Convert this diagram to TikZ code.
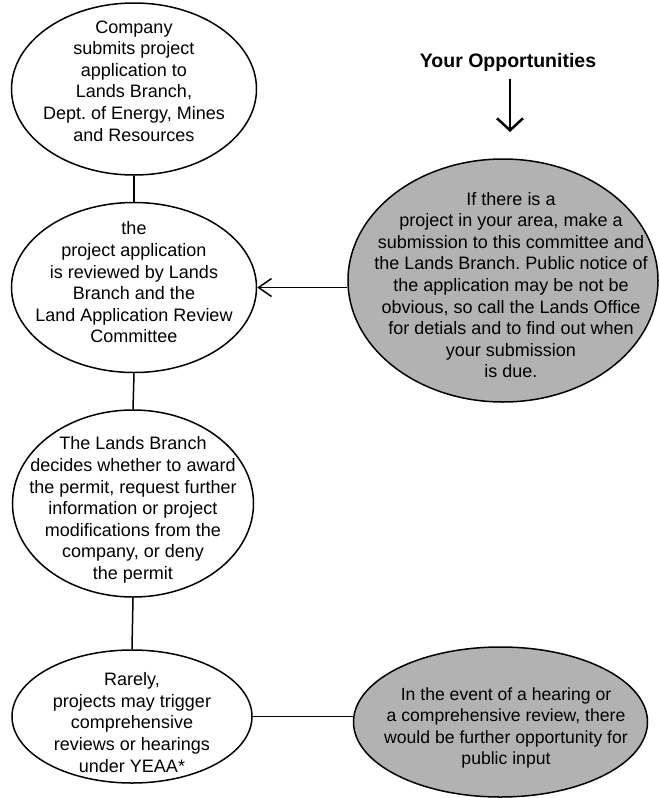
\documentclass[tikz,border=0pt]{standalone}
\usepackage{fontspec}
\setmainfont{Liberation Sans}
\usetikzlibrary{shapes.geometric,arrows.meta}
\frenchspacing

\tikzset{
  stage/.style={ellipse, draw=black, line width=1.5pt, inner sep=0pt, fill=white},
  chance/.style={ellipse, draw=black, line width=1.5pt, inner sep=0pt, fill=black!30},
  body/.style={align=center, inner sep=0pt, font=\fontsize{18}{21.6}\selectfont},
  smallbody/.style={align=center, inner sep=0pt, font=\fontsize{17.6}{21.5}\selectfont},
  link/.style={line width=1.5pt},
  feed/.style={line width=1.5pt, -{Straight Barb[length=13pt,width=18pt]}},
  pointer/.style={line width=2.5pt, -{Straight Barb[length=12pt,width=26pt]}}
}

\begin{document}
\begin{tikzpicture}[x=1pt,y=-1pt]
  \useasboundingbox (0,0) rectangle (659,798);

  % process stages (left column)
  \node[stage, minimum width=245pt, minimum height=172pt] (e1) at (134,89) {};
  \node[stage, minimum width=245pt, minimum height=170pt] (e2) at (134,287.5) {};
  \node[stage, minimum width=241pt, minimum height=187pt] (e3) at (133,503.5) {};
  \node[stage, minimum width=240pt, minimum height=133pt] (e4) at (132,716.5) {};

  % opportunities (right column)
  \node[chance, minimum width=310pt, minimum height=243pt] (g1) at (503,280.5) {};
  \node[chance, minimum width=294pt, minimum height=150pt] (g2) at (500.5,722) {};

  % stage texts
  \node[body] (t1) at (134,81) {Company\\submits project\\application to\\Lands Branch,\\Dept. of Energy, Mines\\and Resources};
  \node[body] (t2) at (134,282.5) {the\\project application\\is reviewed by Lands\\Branch and the\\Land Application Review\\Committee};
  \node[body] (t3) at (133,510) {The Lands Branch\\decides whether to award\\the permit, request further\\information or project\\modifications from the\\company, or deny\\the permit};
  \node[body] (t4) at (132,722.5) {Rarely,\\projects may trigger\\comprehensive\\reviews or hearings\\under YEAA*};

  % opportunity texts
  \node[body] (u1) at (511,285) {If there is a\\project in your area, make a\\submission to this committee and\\the Lands Branch. Public notice of\\the application may be not be\\obvious, so call the Lands Office\\for detials and to find out when\\your submission\\is due.};
  \node[smallbody] (u2) at (506,728) {In the event of a hearing or\\a comprehensive review, there\\would be further opportunity for\\public input};

  % heading and its arrow
  \node[anchor=base, inner sep=0pt, font=\bfseries\fontsize{19.5}{23}\selectfont] (head) at (508,67) {Your Opportunities};
  \coordinate (headtip) at (510,132);
  \draw[pointer] (head.south -| headtip) ++(0,8) -- (headtip);

  % connectors
  \draw[link] (e1.south) -- (e2.north);
  \draw[link] (e2.south) -- (e3.north);
  \draw[link] (e3.south) -- (e4.north);
  \draw[feed] (g1.west |- e2.east) -- (e2.east);
  \draw[link] (e4.east) -- (e4.east -| g2.west);
\end{tikzpicture}
\end{document}
